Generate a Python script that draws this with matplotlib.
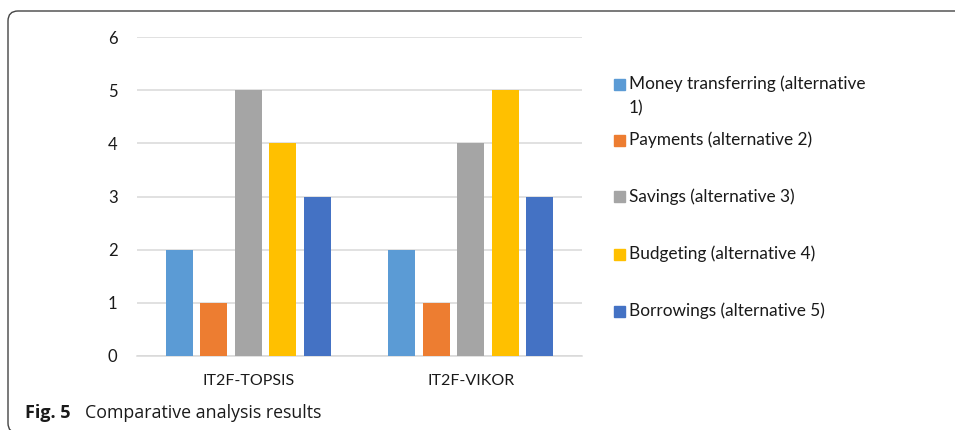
import matplotlib
matplotlib.use("Agg")
import matplotlib.pyplot as plt
import numpy as np
from matplotlib.patches import FancyBboxPatch, Rectangle
from matplotlib.transforms import IdentityTransform

# ── Dados ────────────────────────────────────────────────────────────────────
metodos = ["IT2F-TOPSIS", "IT2F-VIKOR"]
alternativas = [
    "Money transferring (alternative\n1)",
    "Payments (alternative 2)",
    "Savings (alternative 3)",
    "Budgeting (alternative 4)",
    "Borrowings (alternative 5)",
]
rank_money = [2, 2]
rank_payments = [1, 1]
rank_savings = [5, 4]
rank_budgeting = [4, 5]
rank_borrowings = [3, 3]
yticks = [0, 1, 2, 3, 4, 5, 6]

series = [rank_money, rank_payments, rank_savings, rank_budgeting, rank_borrowings]
cores = ["#5B9BD5", "#ED7D31", "#A5A5A5", "#FFC000", "#4472C4"]

W, H, DPI = 955, 430, 100
FONTE = ["Lato", "DejaVu Sans"]
TXT = "#1A1A1A"

fig = plt.figure(figsize=(W / DPI, H / DPI), dpi=DPI)
fig.patch.set_facecolor("white")

# eixo: grade de x=137 a 582 px, y=0 em 356 px, y=6 em 37 px
ax = fig.add_axes([137 / W, (H - 356) / H, (582 - 137) / W, (356 - 37) / H])

x = np.arange(len(metodos))
passo, larg = 0.155, 0.122
for i, (vals, cor) in enumerate(zip(series, cores)):
    ax.bar(x + (i - 2) * passo, vals, width=larg, color=cor, zorder=3)

ax.set_xlim(-0.5, len(metodos) - 0.5)
ax.set_ylim(0, 6)
ax.set_yticks(yticks)
ax.set_xticks(x)
ax.set_xticklabels(metodos)
ax.yaxis.grid(True, color="#D9D9D9", lw=1.1)
ax.set_axisbelow(True)
for s in ("top", "right", "left"):
    ax.spines[s].set_visible(False)
ax.spines["bottom"].set_color("#D9D9D9")
ax.spines["bottom"].set_linewidth(1.1)
ax.tick_params(axis="both", length=0, labelsize=12, colors=TXT)
ax.tick_params(axis="x", labelsize=11.5, pad=13)
ax.tick_params(axis="y", pad=14)
for lbl in ax.get_xticklabels() + ax.get_yticklabels():
    lbl.set_family(FONTE)

# legenda manual (em pixels)
ys = [84, 140, 197, 254, 311]
for lab, cor, yy in zip(alternativas, cores, ys):
    fig.add_artist(Rectangle(((614) / W, (H - yy - 5.5) / H), 11 / W, 11 / H,
                             transform=fig.transFigure, color=cor))
    fig.text(629 / W, (H - yy + 8.5) / H, lab, fontsize=12.4, family=FONTE,
             color=TXT, va="top", ha="left", linespacing=1.6)

# moldura arredondada
fig.add_artist(FancyBboxPatch((8, -3), 990, 422, boxstyle="round,pad=0,rounding_size=10",
                              transform=IdentityTransform(), facecolor="none",
                              edgecolor="#444444", lw=1.0))

# legenda da figura
fig.text(25 / W, (H - 418) / H, "Fig. 5", fontsize=13, fontweight="bold",
         family=["Open Sans", "DejaVu Sans"], color=TXT, va="baseline")
fig.text(85 / W, (H - 418) / H, "Comparative analysis results", fontsize=12.8,
         family=["Open Sans", "DejaVu Sans"], color=TXT, va="baseline")

fig.savefig("out.png", dpi=DPI, facecolor="white")
